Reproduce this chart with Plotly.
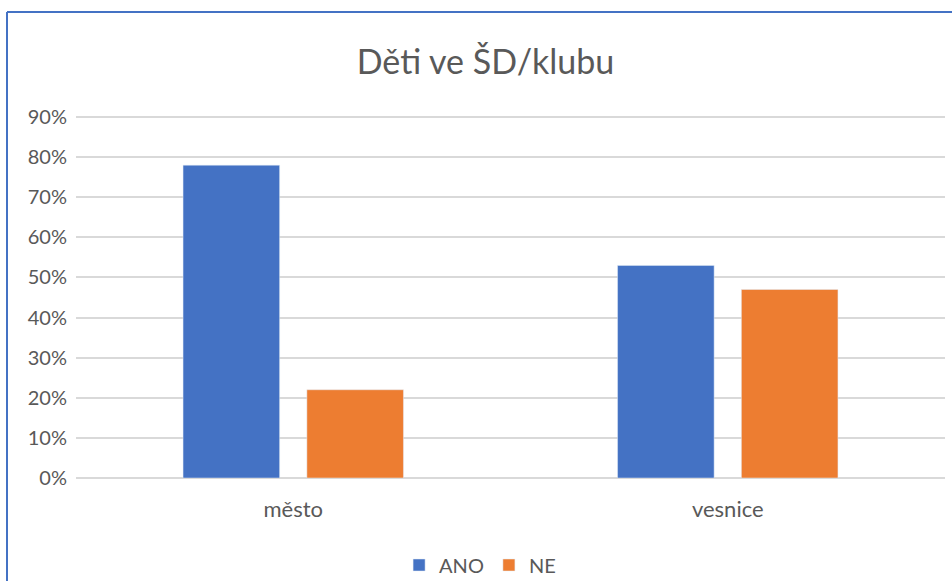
import plotly.graph_objs as go

categories = ["město", "vesnice"]
ano = [0.78, 0.53]
ne = [0.22, 0.47]

W, H = 952, 581
ML, MR, MT, MB = 76, 7, 115, 103
FONT = "Lato, Carlito, sans-serif"

fig = go.Figure(data=[
    go.Bar(name="ANO", x=categories, y=ano, marker_color="#4472C4"),
    go.Bar(name="NE", x=categories, y=ne, marker_color="#ED7D31"),
])

# chart border (left and top edges visible in the original)
pw = W - ML - MR
ph = H - MT - MB
x_left = (7 - ML) / pw
y_top = (H - MB - 12) / ph
y_bot = (H - MB - H) / ph
x_right = (W - ML) / pw
border = dict(color="#4472C4", width=2)
fig.add_shape(type="line", xref="paper", yref="paper",
              x0=x_left, x1=x_left, y0=y_bot, y1=y_top, line=border)
fig.add_shape(type="line", xref="paper", yref="paper",
              x0=x_left, x1=x_right, y0=y_top, y1=y_top, line=border)

fig.update_layout(
    width=W, height=H,
    margin=dict(l=ML, r=MR, t=MT, b=MB, autoexpand=False),
    paper_bgcolor="white", plot_bgcolor="white",
    font=dict(family=FONT, size=20, color="#595959"),
    title=dict(text="Děti ve ŠD/klubu", x=0.51, xanchor="center",
               yref="container", y=1 - 62 / H, yanchor="middle",
               font=dict(size=34, color="#595959")),
    barmode="group", bargap=0.43, bargroupgap=0.22,
    showlegend=True,
    legend=dict(orientation="h", x=0.465, xanchor="center",
                yref="container", y=(H - 565) / H, yanchor="middle",
                font=dict(size=20), itemwidth=30),
    xaxis=dict(showgrid=False, showline=False, ticks="", automargin=False,
               ticklabelstandoff=16,
               tickfont=dict(family=FONT, size=22)),
    yaxis=dict(range=[0, 0.905], dtick=0.1, tickformat=".0%", automargin=False,
               gridcolor="#d9d9d9", gridwidth=2, zeroline=True,
               zerolinecolor="#d9d9d9", zerolinewidth=2,
               ticks="", ticklabelstandoff=8,
               tickfont=dict(family=FONT, size=20)),
)

fig.write_html("out.html", config={"displayModeBar": False},
               post_script="document.body.style.margin='0';")
